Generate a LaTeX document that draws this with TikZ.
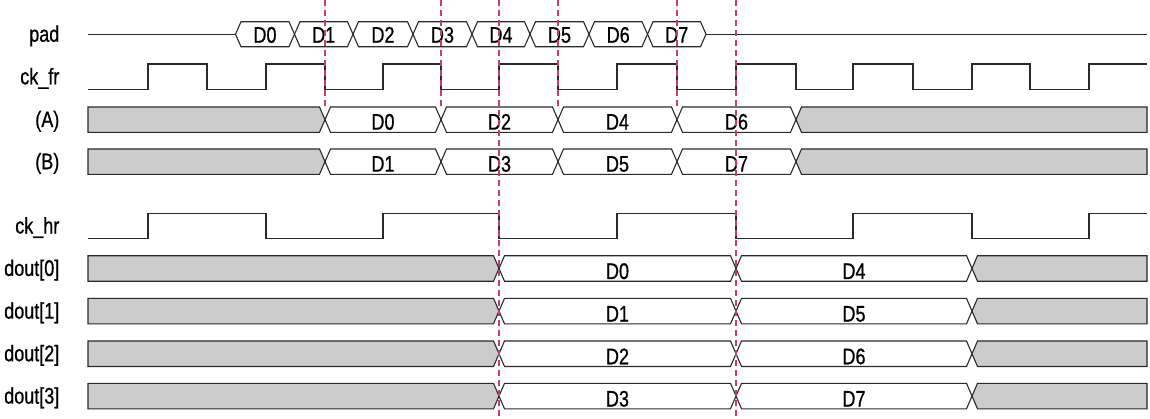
\documentclass[tikz,border=0pt]{standalone}
\usepackage{fontspec}
\setmainfont{Liberation Sans}[FakeStretch=0.8,FakeBold=0.8]
\definecolor{linec}{HTML}{2A2A2A}
\definecolor{busgray}{HTML}{CCCCCC}
\definecolor{guidec}{HTML}{C2406E}
\tikzset{
  sig/.style={draw=linec, line width=1.1pt, line join=miter},
  grayfill/.style={fill=busgray, draw=linec, line width=1.1pt, line join=miter},
  datatxt/.style={font=\fontsize{22.5}{26}\selectfont, anchor=base, inner sep=0pt, text=black},
  sigtxt/.style={font=\fontsize{22.5}{26}\selectfont, anchor=base east, inner sep=0pt, text=black},
  guide/.style={draw=guidec, line width=1.2pt, dash pattern=on 6pt off 4pt},
}
% gray block ending in a half crossing at t
\newcommand\grayleft[4]{% x0, t, top, bot
  \filldraw[grayfill] (#1,#3) -- ({#2-5.5},#3) -- (#2,{(#3+#4)/2}) -- ({#2-5.5},#4) -- (#1,#4) -- cycle;}
\newcommand\grayright[4]{% t, x1, top, bot
  \filldraw[grayfill] (#2,#3) -- ({#1+5.5},#3) -- (#1,{(#3+#4)/2}) -- ({#1+5.5},#4) -- (#2,#4) -- cycle;}
\newcommand\dataseg[7]{% name, t1, t2, top, bot, label, baseline offset
  \draw[sig] (#2,{(#4+#5)/2}) -- ({#2+5.5},#4) -- ({#3-5.5},#4) -- (#3,{(#4+#5)/2}) -- ({#3-5.5},#5) -- ({#2+5.5},#5) -- cycle;
  \node[datatxt] (#1) at ({(#2+#3)/2},{(#4+#5)/2+#7}) {#6};}
\begin{document}
\begin{tikzpicture}[x=1pt,y=-1pt]
\fill[white] (0,0) rectangle (1150,418);
\useasboundingbox (0,0) rectangle (1150,418);

% ---- labels ----
\node[sigtxt] (lpad) at (59.5,41.7) {pad};
\node[sigtxt] (lckfr) at (59.5,84.3) {ck\_fr};
\node[sigtxt] (lA) at (59.5,127.1) {(A)};
\node[sigtxt] (lB) at (59.5,169.2) {(B)};
\node[sigtxt] (lckhr) at (59.5,233.5) {ck\_hr};
\node[sigtxt] (ld0) at (59.5,275.9) {dout[0]};
\node[sigtxt] (ld1) at (59.5,318.6) {dout[1]};
\node[sigtxt] (ld2) at (59.5,361.2) {dout[2]};
\node[sigtxt] (ld3) at (59.5,403.6) {dout[3]};

% ---- pad ----
\draw[sig] (88,34.2) -- (235.5,34.2);
\dataseg{p0}{235.5}{294.5}{21.7}{46.7}{D0}{8.5}
\dataseg{p1}{294.5}{353}{21.7}{46.7}{D1}{8.5}
\dataseg{p2}{353}{413}{21.7}{46.7}{D2}{8.5}
\dataseg{p3}{413}{472}{21.7}{46.7}{D3}{8.5}
\dataseg{p4}{472}{530}{21.7}{46.7}{D4}{8.5}
\dataseg{p5}{530}{589}{21.7}{46.7}{D5}{8.5}
\dataseg{p6}{589}{647.5}{21.7}{46.7}{D6}{8.5}
\dataseg{p7}{647.5}{706}{21.7}{46.7}{D7}{8.5}
\draw[sig] (706,34.2) -- (1147,34.2);

% ---- ck_fr ----
\draw[sig] (88,89.5) -- (148,89.5) -- (148,64) -- (207,64) -- (207,89.5) -- (266,89.5) -- (266,64)
  -- (325,64) -- (325,89.5) -- (383,89.5) -- (383,64) -- (441,64) -- (441,89.5) -- (499,89.5)
  -- (499,64) -- (558,64) -- (558,89.5) -- (617,89.5) -- (617,64) -- (677,64) -- (677,89.5)
  -- (736,89.5) -- (736,64) -- (796,64) -- (796,89.5) -- (853,89.5) -- (853,64) -- (913,64)
  -- (913,89.5) -- (972,89.5) -- (972,64) -- (1030,64) -- (1030,89.5) -- (1089,89.5) -- (1089,64)
  -- (1147,64);

% ---- (A) ----
\grayleft{88}{325}{107}{132.3}
\dataseg{a0}{325}{441}{107}{132.3}{D0}{10}
\dataseg{a2}{441}{558}{107}{132.3}{D2}{10}
\dataseg{a4}{558}{677}{107}{132.3}{D4}{10}
\dataseg{a6}{677}{796}{107}{132.3}{D6}{10}
\grayright{796}{1147}{107}{132.3}

% ---- (B) ----
\grayleft{88}{325}{149}{174.3}
\dataseg{b1}{325}{441}{149}{174.3}{D1}{10}
\dataseg{b3}{441}{558}{149}{174.3}{D3}{10}
\dataseg{b5}{558}{677}{149}{174.3}{D5}{10}
\dataseg{b7}{677}{796}{149}{174.3}{D7}{10}
\grayright{796}{1147}{149}{174.3}

% ---- ck_hr ----
\draw[sig] (88,238.7) -- (148,238.7) -- (148,213.3) -- (266,213.3) -- (266,238.7) -- (383,238.7)
  -- (383,213.3) -- (499,213.3) -- (499,238.7) -- (617,238.7) -- (617,213.3) -- (736,213.3)
  -- (736,238.7) -- (853,238.7) -- (853,213.3) -- (972,213.3) -- (972,238.7) -- (1089,238.7)
  -- (1089,213.3) -- (1147,213.3);

% ---- dout[0..3] ----
\foreach \i/\tp in {0/255.7,1/298.3,2/341,3/383.3}{
  \pgfmathsetmacro\bt{\tp+25.5}
  \pgfmathtruncatemacro\j{\i+4}
  \grayleft{88}{499}{\tp}{\bt}
  \dataseg{d\i a}{499}{736}{\tp}{\bt}{D\i}{10.5}
  \dataseg{d\i b}{736}{972}{\tp}{\bt}{D\j}{10.5}
  \grayright{972}{1147}{\tp}{\bt}
}

% ---- guide lines ----
\coordinate (g1t) at (325,0);   \coordinate (g1b) at (325,107);
\coordinate (g2t) at (441,0);   \coordinate (g2b) at (441,107);
\coordinate (g3t) at (558,0);   \coordinate (g3b) at (558,107);
\coordinate (g4t) at (677,0);   \coordinate (g4b) at (677,107);
\coordinate (g5t) at (499,0);   \coordinate (g5b) at (499,418);
\coordinate (g6t) at (736,0);   \coordinate (g6b) at (736,418);
\foreach \g in {1,...,6}{ \draw[guide] (g\g t) -- (g\g b); }
\end{tikzpicture}
\end{document}
